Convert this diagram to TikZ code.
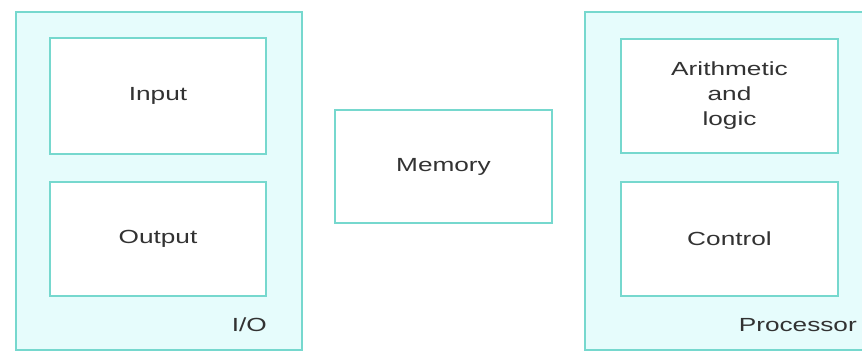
\documentclass[tikz,border=0pt]{standalone}
\usepackage{fontspec}
\setmainfont[FakeStretch=1.38]{Liberation Sans}
\definecolor{edge}{RGB}{118,216,206}
\definecolor{pane}{RGB}{230,252,252}
\definecolor{ink}{RGB}{50,50,50}
\begin{document}
\begin{tikzpicture}[x=1pt,y=-1pt,
  unit/.style={draw=edge,line width=2.6pt,fill=pane,inner sep=0pt},
  part/.style={draw=edge,line width=2.4pt,fill=white,text=ink,align=center,
    font=\fontsize{19}{25}\selectfont,inner sep=0pt},
  tag/.style={text=ink,font=\fontsize{19}{25}\selectfont,inner sep=0pt}]
\useasboundingbox (0,0) rectangle (862,353);
% input/output unit
\node[unit,minimum width=286pt,minimum height=338pt] (io) at (159,181) {};
\node[part,minimum width=216pt,minimum height=116pt] (in) at (158,96) {Input};
\node[part,minimum width=216pt,minimum height=114pt] (out) at (158,239) {Output};
\node[tag,anchor=base east] (iot) at (267,331) {I/O};
% memory
\node[part,minimum width=217pt,minimum height=113pt] (mem) at (443.5,166.5) {Memory};
% processor unit, running past the right margin
\node[unit,minimum width=284pt,minimum height=338pt] (cpu) at (727,181) {};
\node[part,minimum width=217pt,minimum height=114pt] (alu) at (729.5,96) {Arithmetic\\and\\logic};
\node[part,minimum width=217pt,minimum height=114pt] (ctl) at (729.5,239) {Control};
\node[tag,anchor=base east] (cput) at (857,331) {Processor};
\end{tikzpicture}
\end{document}
